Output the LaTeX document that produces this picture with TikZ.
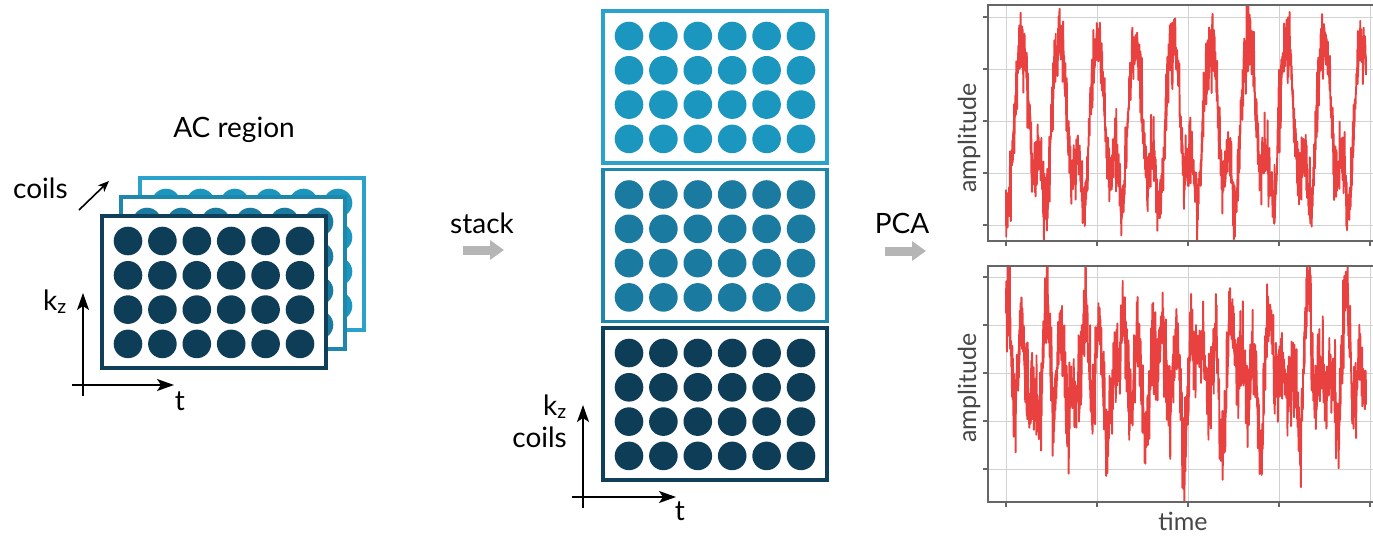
\documentclass[tikz,border=0pt]{standalone}
\usepackage{fontspec}
\setmainfont{Lato}
\usetikzlibrary{arrows.meta}
\definecolor{lightb}{HTML}{1A96BF}
\definecolor{lightbd}{HTML}{2BA2CB}
\definecolor{midb}{HTML}{1A7A9F}
\definecolor{midbd}{HTML}{1F86AC}
\definecolor{darkb}{HTML}{0E3D58}
\definecolor{darkbd}{HTML}{103F5A}
\definecolor{sig}{HTML}{E8413F}
\definecolor{arrowgray}{HTML}{B5B5B5}
\definecolor{gridgray}{HTML}{D2D2D2}
\definecolor{framegray}{HTML}{666666}
\newcommand\drawpanel[4]{%
  \draw[line width=3.3pt, draw=#4, fill=white] (#1,#2) rectangle ++(224,152);
  \foreach \i in {0,...,5} \foreach \j in {0,...,3}
    \fill[#3] ({#1+26+34.4*\i},{#2+25+34.3*\j}) circle[radius=14.3pt];
}
\tikzset{
  lbl/.style={font=\fontsize{28}{34}\selectfont, inner sep=0pt},
  plbl/.style={font=\fontsize{25}{30}\selectfont, text=black!72, inner sep=0pt},
  axisarrow/.style={line width=1.6pt, -{Stealth[length=17pt,width=12pt,inset=4pt]}},
  smallarrow/.style={line width=1.6pt, -{Stealth[length=11pt,width=9pt,inset=3pt]}},
  grayarrow/.style={line width=9pt, arrowgray, -{Triangle[length=14pt,width=19pt]}},
  gridline/.style={gridgray, line width=1pt},
  frameline/.style={framegray, line width=1.5pt},
  sigline/.style={sig, line width=1.9pt, line join=round},
}
\begin{document}
\begin{tikzpicture}[x=1pt,y=-1pt]
\useasboundingbox (0,0) rectangle (1373,536);
\pgfmathsetseed{7}
% ---------- left: AC region stack of layers ----------
\node[lbl, anchor=base] (acreg) at (234,137) {AC region};
\drawpanel{140}{178}{lightb}{lightbd}
\drawpanel{121}{197}{midb}{midbd}
\drawpanel{102}{216}{darkb}{darkbd}
\node[lbl, anchor=base west] (coilsL) at (13,198) {coils};
\coordinate (cA) at (79,210);
\coordinate (cB) at (109,181);
\draw[smallarrow] (cA) -- (cB);
\coordinate (lv0) at (83,396);
\coordinate (lv1) at (83,293);
\coordinate (lh0) at (72,385);
\coordinate (lh1) at (174,385);
\draw[axisarrow] (lv0) -- (lv1);
\draw[axisarrow] (lh0) -- (lh1);
\node[lbl, anchor=base west] (kzL) at (43,310) {k\textsubscript{z}};
\node[lbl, anchor=base] (tL) at (180,410) {t};
% ---------- stack arrow ----------
\node[lbl, anchor=base] (stack) at (482,233) {stack};
\coordinate (sa0) at (463,250);
\coordinate (sa1) at (504,250);
\draw[grayarrow] (sa0) -- (sa1);
% ---------- middle: stacked panels ----------
\drawpanel{603}{11}{lightb}{lightbd}
\drawpanel{603}{169.5}{midb}{midbd}
\drawpanel{603}{328}{darkb}{darkbd}
\coordinate (mv0) at (583,508);
\coordinate (mv1) at (583,405);
\coordinate (mh0) at (572,497);
\coordinate (mh1) at (676,497);
\draw[axisarrow] (mv0) -- (mv1);
\draw[axisarrow] (mh0) -- (mh1);
\node[lbl, anchor=base west] (kzM) at (543,415) {k\textsubscript{z}};
\node[lbl, anchor=base east] (coilsM) at (567,447) {coils};
\node[lbl, anchor=base] (tM) at (680,520) {t};
% ---------- PCA arrow ----------
\node[lbl, anchor=base] (pca) at (902,233) {PCA};
\coordinate (pa0) at (885,251);
\coordinate (pa1) at (926,251);
\draw[grayarrow] (pa0) -- (pa1);
% ---------- top plot ----------
\foreach \gx in {1006,1097,1188,1279,1370} \draw[gridline] (\gx,5) -- (\gx,241);
\foreach \gy in {17,69,121,173,225} \draw[gridline] (988,\gy) -- (1380,\gy);
\begin{scope}
\clip (988,5) rectangle (1380,241);
\draw[sigline] plot[domain=1006:1366, samples=1500, variable=\u]
  (\u, {128 - 112*(0.6*cos(9.524*(\u-1021)) + 0.25*cos(19.048*(\u-1021)) + 0.15*sin(9.524*(\u-1021)) - 0.12*cos(28.57*(\u-1021))) + 18*rand + 34*rand^3});
\end{scope}
\draw[frameline] (988,5) rectangle (1380,241);
\foreach \gy in {17,69,121,173,225} \draw[frameline] (983,\gy) -- (988,\gy);
\foreach \gx in {1006,1097,1188,1279,1370} \draw[frameline] (\gx,241) -- (\gx,246);
\node[plbl, rotate=90] (ampT) at (969,138) {amplitude};
% ---------- bottom plot ----------
\foreach \gx in {1006,1097,1188,1279,1370} \draw[gridline] (\gx,266) -- (\gx,502);
\foreach \gy in {277,325,373,421,469} \draw[gridline] (988,\gy) -- (1380,\gy);
\begin{scope}
\clip (988,266) rectangle (1380,502);
\draw[sigline] plot[domain=1006:1366, samples=1500, variable=\u]
  (\u, {372 - 85*(0.35*sin(27.7*(\u-1006)+30) + 0.35*sin(19.1*(\u-1006)+80) + 0.3*sin(9.7*(\u-1006)+10)) + 20*rand + 45*rand^3});
\end{scope}
\draw[frameline] (988,266) rectangle (1380,502);
\foreach \gy in {277,325,373,421,469} \draw[frameline] (983,\gy) -- (988,\gy);
\foreach \gx in {1006,1097,1188,1279,1370} \draw[frameline] (\gx,502) -- (\gx,507);
\node[plbl, rotate=90] (ampB) at (969,388) {amplitude};
\node[plbl, anchor=base] (time) at (1183,530) {time};
\end{tikzpicture}
\end{document}
